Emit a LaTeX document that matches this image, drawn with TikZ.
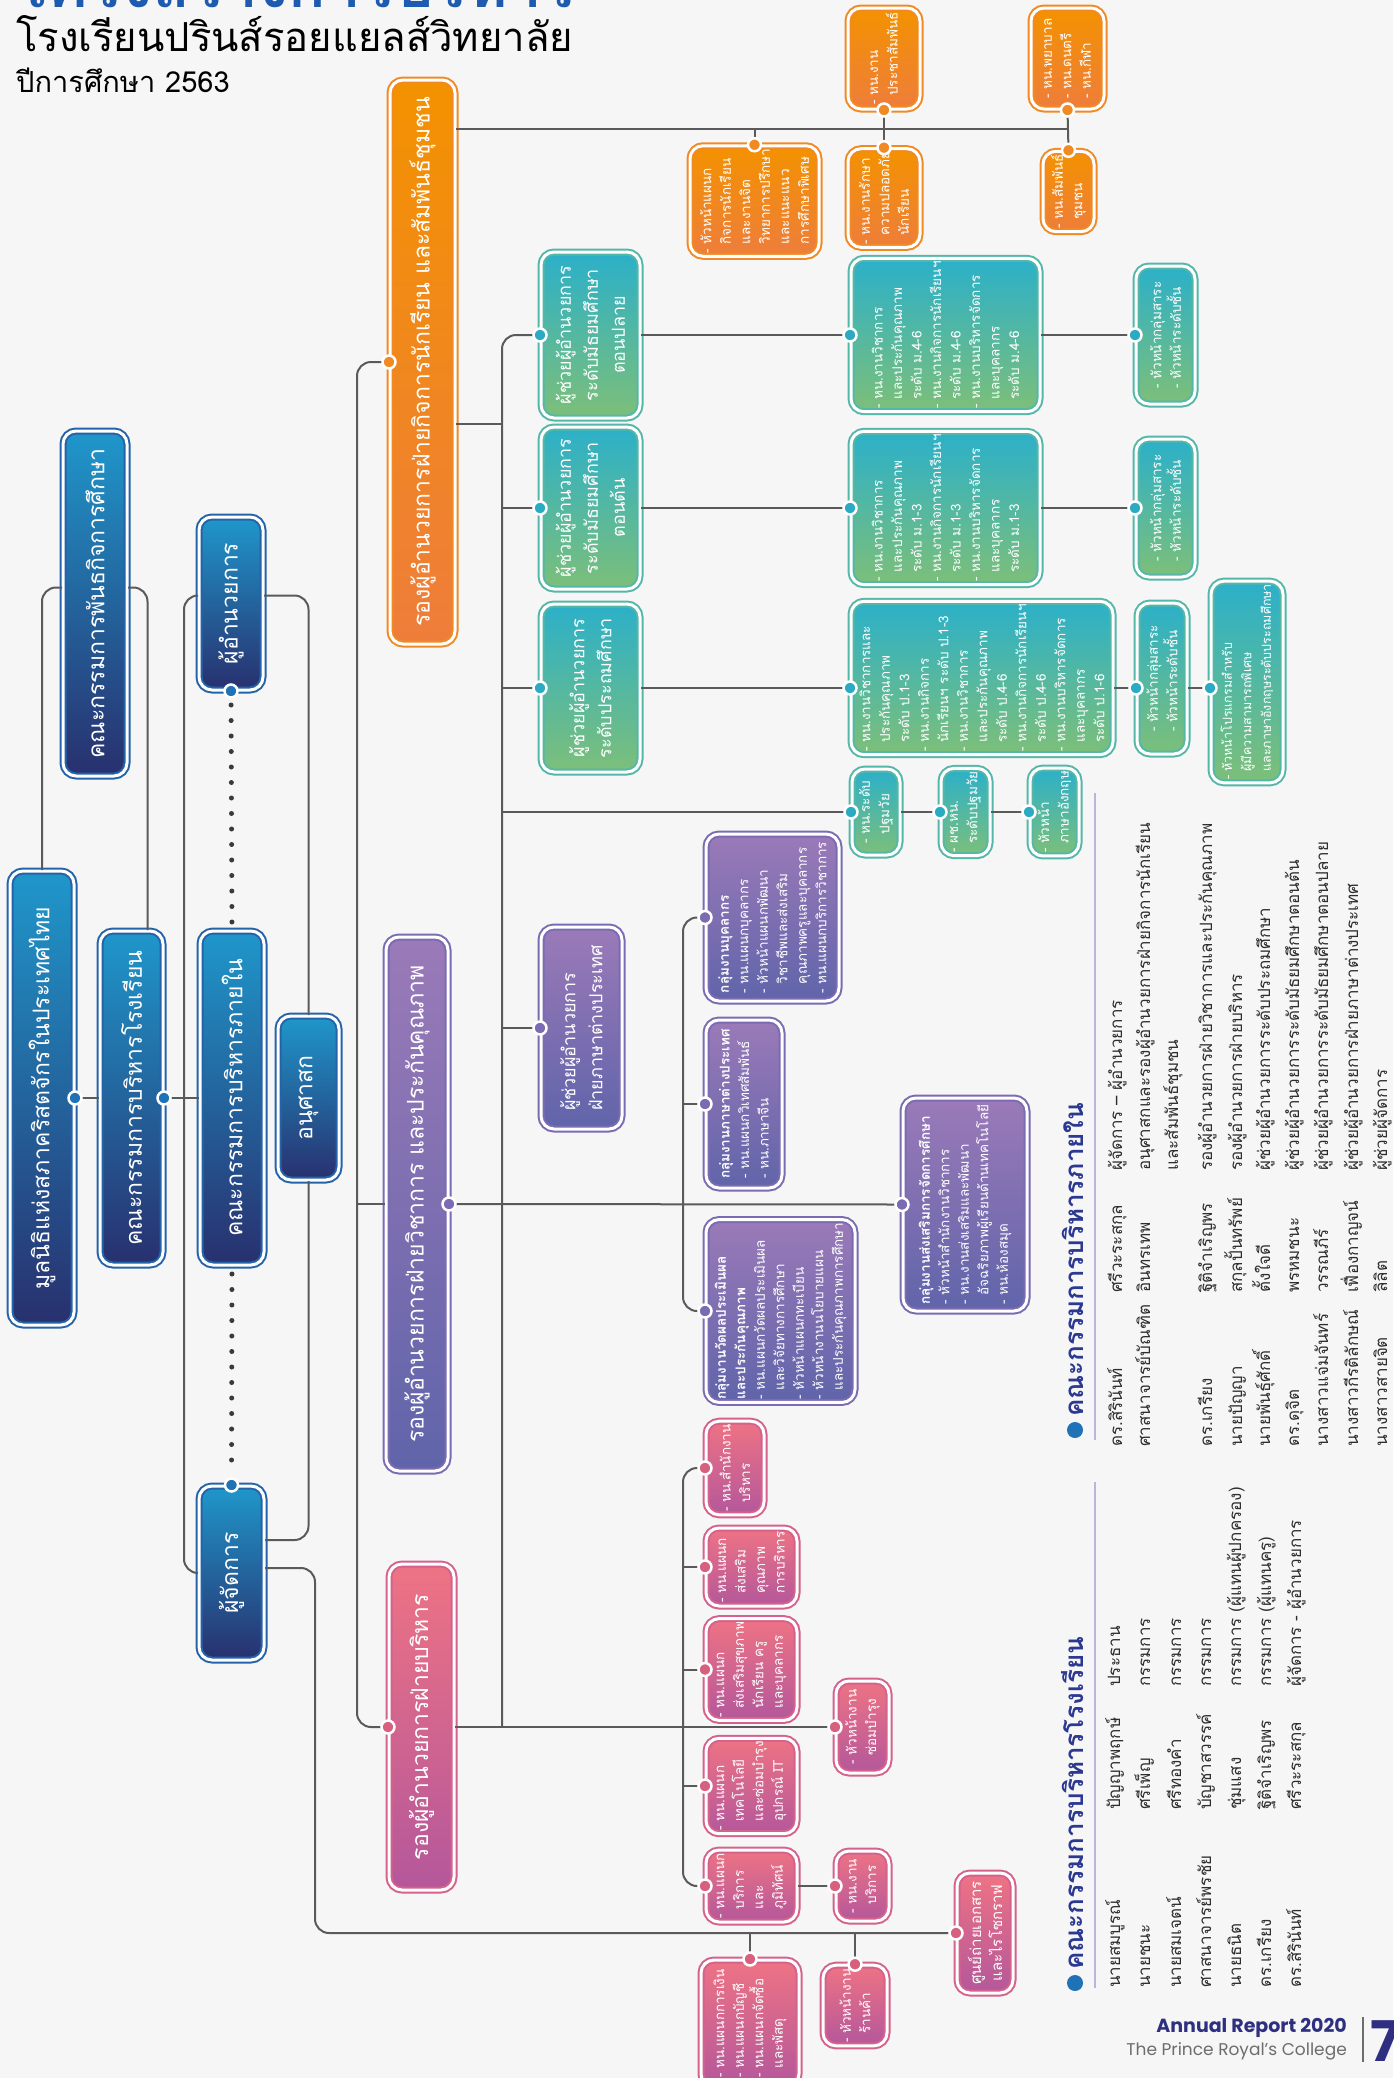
\documentclass[tikz,border=0pt]{standalone}
\usepackage{fontspec}
\setmainfont[Script=Thai]{Loma}
\newfontfamily\latin{Poppins}

\definecolor{bgcol}{HTML}{F6F6F6}
\definecolor{bluetop}{HTML}{1F97CB}
\definecolor{bluebot}{HTML}{28306E}
\definecolor{bluering}{HTML}{2563A8}
\definecolor{bluedot}{HTML}{1E72B5}
\definecolor{orgtop}{HTML}{F39200}
\definecolor{orgbot}{HTML}{EE7D3B}
\definecolor{orgring}{HTML}{F08A24}
\definecolor{grntop}{HTML}{2BB0C9}
\definecolor{grnbot}{HTML}{7DBF79}
\definecolor{grnring}{HTML}{55B7A8}
\definecolor{grndot}{HTML}{2AABC3}
\definecolor{purtop}{HTML}{9B7AB8}
\definecolor{purbot}{HTML}{6064AA}
\definecolor{purring}{HTML}{7A6BB2}
\definecolor{pnktop}{HTML}{EE7384}
\definecolor{pnkbot}{HTML}{B4579B}
\definecolor{pnkring}{HTML}{D4628C}
\definecolor{pnkdot}{HTML}{D8607F}
\definecolor{linegray}{HTML}{5A5A5A}
\definecolor{dotgray}{HTML}{3A3A3A}
\definecolor{legtext}{HTML}{2E2E2E}
\definecolor{headblue}{HTML}{2B3990}
\definecolor{rulec}{HTML}{B9B7D8}
\definecolor{navy}{HTML}{2E2F80}
\definecolor{footgray}{HTML}{6D6D6D}
\definecolor{titleblue}{HTML}{1E5BB0}

\newcommand\tabi{\hphantom{- }}
\newcommand\jdot[2]{\filldraw[fill=#1,draw=white,line width=2.5pt] (#2) circle (6.5pt);}

\tikzset{
  box/.style={rotate=90, rounded corners=13pt, line width=2pt, double=white, double distance=3pt, text=white, inner sep=3pt},
  bluebox/.style={box, draw=bluering, top color=bluetop, bottom color=bluebot, font=\fontsize{23}{28}\selectfont},
  orgbox/.style={box, draw=orgring, top color=orgtop, bottom color=orgbot},
  grnbox/.style={box, draw=grnring, top color=grntop, bottom color=grnbot},
  purbox/.style={box, draw=purring, top color=purtop, bottom color=purbot},
  pnkbox/.style={box, draw=pnkring, top color=pnktop, bottom color=pnkbot},
  bigtext/.style={font=\fontsize{23}{28}\selectfont},
  midtext/.style={font=\fontsize{18}{27}\selectfont, align=center},
  listtext/.style={font=\fontsize{13.5}{19.5}\selectfont, align=left},
  link/.style={draw=linegray, line width=2pt},
  dotline/.style={draw=dotgray, line width=5pt, line cap=round, dash pattern=on 0pt off 15.5pt},
  lg/.style={rotate=90, anchor=base west, inner sep=0pt, text=legtext, font=\fontsize{17}{20}\selectfont},
  lghead/.style={rotate=90, anchor=base west, inner sep=0pt, text=headblue, font=\bfseries\fontsize{26}{30}\selectfont},
}

\begin{document}
\begin{tikzpicture}[x=1pt, y=-1pt]
\useasboundingbox (0,0) rectangle (1393,2078);
\clip (0,0) rectangle (1393,2078);
\fill[bgcol] (0,0) rectangle (1393,2078);

% header
\node[anchor=base west, inner sep=0pt, text=titleblue, font=\bfseries\fontsize{62}{70}\selectfont] (bigtitle) at (14,7) {โครงสร้างการบริหาร};
\node[anchor=base west, inner sep=0pt, font=\fontsize{40}{48}\selectfont] (school) at (16,51) {โรงเรียนปรินส์รอยแยลส์วิทยาลัย};
\node[anchor=base west, inner sep=0pt, font=\fontsize{29}{36}\selectfont] (year) at (16,92) {ปีการศึกษา 2563};

% board and director
\node[bluebox, minimum width=454, minimum height=64] (B1) at (42,1098) {มูลนิธิแห่งสภาคริสตจักรในประเทศไทย};
\node[bluebox, minimum width=345, minimum height=64] (B2) at (95,603.5) {คณะกรรมการพันธกิจการศึกษา};
\node[bluebox, minimum width=334, minimum height=63] (B3) at (131.5,1098) {คณะกรรมการบริหารโรงเรียน};
\node[bluebox, minimum width=173, minimum height=64] (B4) at (231,603.5) {ผู้อำนวยการ};
\node[bluebox, minimum width=334, minimum height=64] (B5) at (232,1098) {คณะกรรมการบริหารภายใน};
\node[bluebox, minimum width=164, minimum height=61] (B6) at (308.5,1098) {อนุศาสก};
\node[bluebox, minimum width=174, minimum height=65] (B7) at (231.5,1573) {ผู้จัดการ};

% deputies
\node[orgbox, bigtext, minimum width=564, minimum height=65] (D1) at (422.5,362) {รองผู้อำนวยการฝ่ายกิจการนักเรียน และสัมพันธ์ชุมชน};
\node[purbox, bigtext, minimum width=534, minimum height=62] (P0) at (417,1204) {รองผู้อำนวยการฝ่ายวิชาการ และประกันคุณภาพ};
\node[pnkbox, bigtext, minimum width=326, minimum height=65] (K0) at (421.5,1727) {รองผู้อำนวยการฝ่ายบริหาร};

% student affairs
\node[orgbox, listtext, minimum width=101, minimum height=72] (O1) at (884,58.5) {- หน.งาน\\\tabi ประชาสัมพันธ์};
\node[orgbox, listtext, minimum width=101, minimum height=73] (O2) at (1067.5,58.5) {- หน.พยาบาล\\- หน.ดนตรี\\- หน.กีฬา};
\node[orgbox, listtext, minimum width=100, minimum height=129] (O3) at (754.5,201) {- หัวหน้าแผนก\\\tabi กิจการนักเรียน\\\tabi และงานจิต\\\tabi วิทยาการปรึกษา\\\tabi และแนะแนว\\\tabi การศึกษาพิเศษ};
\node[orgbox, listtext, minimum width=94, minimum height=72] (O4) at (884,198) {- หน.งานรักษา\\\tabi ความปลอดภัย\\\tabi นักเรียน};
\node[orgbox, listtext, minimum width=77, minimum height=51] (O5) at (1068.5,191.5) {- หน.สัมพันธ์\\\tabi ชุมชน};

% assistant directors
\node[grnbox, midtext, minimum width=166, minimum height=99] (G1) at (590.5,335) {ผู้ช่วยผู้อำนวยการ\\ระดับมัธยมศึกษา\\ตอนปลาย};
\node[grnbox, midtext, minimum width=162, minimum height=99] (G2) at (590.5,508) {ผู้ช่วยผู้อำนวยการ\\ระดับมัธยมศึกษา\\ตอนต้น};
\node[grnbox, midtext, minimum width=168, minimum height=99] (G3) at (590.5,688) {ผู้ช่วยผู้อำนวยการ\\ระดับประถมศึกษา};
\node[grnbox, listtext, minimum width=150, minimum height=189] (T1) at (945.5,335) {- หน.งานวิชาการ\\\tabi และประกันคุณภาพ\\\tabi ระดับ ม.4-6\\- หน.งานกิจการนักเรียนฯ\\\tabi ระดับ ม.4-6\\- หน.งานบริหารจัดการ\\\tabi และบุคลากร\\\tabi ระดับ ม.4-6};
\node[grnbox, listtext, minimum width=150, minimum height=189] (T2) at (945.5,508) {- หน.งานวิชาการ\\\tabi และประกันคุณภาพ\\\tabi ระดับ ม.1-3\\- หน.งานกิจการนักเรียนฯ\\\tabi ระดับ ม.1-3\\- หน.งานบริหารจัดการ\\\tabi และบุคลากร\\\tabi ระดับ ม.1-3};
\node[grnbox, listtext, minimum width=152, minimum height=262] (T3) at (982,678) {- หน.งานวิชาการและ\\\tabi ประกันคุณภาพ\\\tabi ระดับ ป.1-3\\- หน.งานกิจการ\\\tabi นักเรียนฯ ระดับ ป.1-3\\- หน.งานวิชาการ\\\tabi และประกันคุณภาพ\\\tabi ระดับ ป.4-6\\- หน.งานกิจการนักเรียนฯ\\\tabi ระดับ ป.4-6\\- หน.งานบริหารจัดการ\\\tabi และบุคลากร\\\tabi ระดับ ป.1-6};
\node[grnbox, listtext, minimum width=138, minimum height=59] (H1) at (1165.5,335) {- หัวหน้ากลุ่มสาระ\\- หัวหน้าระดับชั้น};
\node[grnbox, listtext, minimum width=138, minimum height=59] (H2) at (1165.5,508) {- หัวหน้ากลุ่มสาระ\\- หัวหน้าระดับชั้น};
\node[grnbox, listtext, minimum width=151, minimum height=50] (H3) at (1162,678.5) {- หัวหน้ากลุ่มสาระ\\- หัวหน้าระดับชั้น};
\node[grnbox, listtext, font=\fontsize{12.5}{19.5}\selectfont, minimum width=170, minimum height=72] (H4) at (1247,682) {- หัวหน้าโปรแกรมสำหรับ\\\tabi ผู้มีความสามารถพิเศษ\\\tabi และภาษาอังกฤษระดับประถมศึกษา};
\node[grnbox, listtext, minimum width=86, minimum height=48] (S1) at (876,812) {- หน.ระดับ\\\tabi ปฐมวัย};
\node[grnbox, listtext, minimum width=86, minimum height=49] (S2) at (965.5,812) {- ผช.หน.\\\tabi ระดับปฐมวัย};
\node[grnbox, listtext, minimum width=86, minimum height=49] (S3) at (1054.5,812) {- หัวหน้า\\\tabi ภาษาอังกฤษ};

% academic affairs
\node[purbox, midtext, align=left, minimum width=202, minimum height=81] (PA) at (581.5,1028) {ผู้ช่วยผู้อำนวยการ\\ฝ่ายภาษาต่างประเทศ};
\node[purbox, listtext, minimum width=167, minimum height=133] (PQ1) at (772.5,917.5) {\textbf{กลุ่มงานบุคลากร}\\- หน.แผนกบุคลากร\\- หัวหน้าแผนกพัฒนา\\\tabi วิชาชีพและส่งเสริม\\\tabi คุณภาพครูและบุคลากร\\- หน.แผนกบริการวิชาการ};
\node[purbox, listtext, minimum width=168, minimum height=76] (PQ2) at (744,1104) {\textbf{กลุ่มงานภาษาต่างประเทศ}\\- หน.แผนกวิเทศสัมพันธ์\\- หน.ภาษาจีน};
\node[purbox, listtext, minimum width=182, minimum height=149] (PQ3) at (780.5,1311) {\textbf{กลุ่มงานวัดผลประเมินผล}\\\textbf{และประกันคุณภาพ}\\- หน.แผนกวัดผลประเมินผล\\\tabi และวิจัยทางการศึกษา\\- หัวหน้าแผนกทะเบียน\\- หัวหน้างานนโยบายแผน\\\tabi และประกันคุณภาพการศึกษา};
\node[purbox, listtext, minimum width=213, minimum height=124] (PQ4) at (965,1204.5) {\textbf{กลุ่มงานส่งเสริมการจัดการศึกษา}\\- หัวหน้าสำนักงานวิชาการ\\- หน.งานส่งเสริมและพัฒนา\\\tabi อัจฉริยภาพผู้เรียนด้านเทคโนโลยี\\- หน.ห้องสมุด};

% administration
\node[pnkbox, listtext, minimum width=90, minimum height=58] (K1) at (735,1468) {- หน.สำนักงาน\\\tabi บริหาร};
\node[pnkbox, listtext, minimum width=78, minimum height=91] (K2) at (751.5,1567) {- หน.แผนก\\\tabi ส่งเสริม\\\tabi คุณภาพ\\\tabi การบริหาร};
\node[pnkbox, listtext, minimum width=97, minimum height=91] (K3) at (751.5,1669.5) {- หน.แผนก\\\tabi ส่งเสริมสุขภาพ\\\tabi นักเรียน ครู\\\tabi และบุคลากร};
\node[pnkbox, listtext, minimum width=92, minimum height=53] (KH) at (862.5,1727) {- หัวหน้างาน\\\tabi ซ่อมบำรุง};
\node[pnkbox, listtext, minimum width=94, minimum height=91] (K4) at (751.5,1786) {- หน.แผนก\\\tabi เทคโนโลยี\\\tabi และซ่อมบำรุง\\\tabi อุปกรณ์ IT};
\node[pnkbox, listtext, minimum width=72, minimum height=91] (K5) at (751.5,1886) {- หน.แผนก\\\tabi บริการ\\\tabi และ\\\tabi ภูมิทัศน์};
\node[pnkbox, listtext, minimum width=70, minimum height=53] (KS) at (862.5,1886) {- หน.งาน\\\tabi บริการ};
\node[pnkbox, midtext, font=\fontsize{15}{21}\selectfont, minimum width=120, minimum height=56] (KC) at (985,1933) {ศูนย์ถ่ายเอกสาร\\และไรโซกราฟ};
\node[pnkbox, listtext, minimum width=127, minimum height=98] (KF) at (750,2023.5) {- หน.แผนกการเงิน\\- หน.แผนกบัญชี\\- หน.แผนกจัดซื้อ\\\tabi และพัสดุ};
\node[pnkbox, listtext, minimum width=79, minimum height=64] (KR) at (855,2005.5) {- หัวหน้างาน\\\tabi ร้านค้า};

% connectors
\draw[link] (B1.south) -- (B3.north);
\draw[link] (B3.south) -- (B5.north);
\draw[link, rounded corners=14pt] (B1.east) |- ([yshift=16pt]B2.north);
\draw[link, rounded corners=14pt] ([yshift=16pt]B2.south) -| ([xshift=16pt]B3.east);
\draw[link, rounded corners=14pt] ([yshift=8pt]B4.north) -- ++(-14,0) |- (B7.north);
\draw[link, rounded corners=14pt] ([yshift=8pt]B4.south) -| (B6.east);
\draw[link, rounded corners=14pt] (B6.west) |- ([yshift=33pt]B7.south);
\draw[link, rounded corners=14pt] ([yshift=5pt]B7.south) -- ++(50,0) |- (KC.north);
\draw[link] (KF.east) -- (KF.east |- KC.north);
\draw[link] (KR.east) -- (KR.east |- KC.north);
\draw[dotline, shorten <=14pt, shorten >=8pt] (B4.west) -- (B5.east);
\draw[dotline, shorten <=8pt, shorten >=14pt] (B5.west) -- (B7.east);

\draw[link, rounded corners=14pt] (D1.north) -| (357,1204) |- (K0.north);
\draw[link] (P0.north) -- (P0.north -| 357,0);

\draw[link] (D1.south |- 0,129) -- (O2.west |- 0,129);
\draw[link] (O1.west) -- (O4.east);
\draw[link] (O2.west) -- (O5.east);
\draw[link] (O3.east) -- (O3.east |- 0,129);
\draw[link] (D1.south |- 0,424) -- (502,424);

\draw[link, rounded corners=14pt] (G1.north) -| (K0.south -| 502,0);
\draw[link] (G2.north) -- (G2.north -| 502,0);
\draw[link] (G3.north) -- (G3.north -| 502,0);
\draw[link] (S1.north) -- (S1.north -| 502,0);
\draw[link] (PA.north) -- (PA.north -| 502,0);
\draw[link] (G1.south) -- (T1.north);
\draw[link] (T1.south) -- (H1.north);
\draw[link] (G2.south) -- (T2.north);
\draw[link] (T2.south) -- (H2.north);
\draw[link] (G3.south) -- (T3.north |- G3.south);
\draw[link] (T3.south |- G3.south) -- (H3.north |- G3.south);
\draw[link] (H3.south |- G3.south) -- (H4.north |- G3.south);
\draw[link] (S1.south) -- (S2.north);
\draw[link] (S2.south) -- (S3.north);

\draw[link] (P0.south) -- (PQ4.north);
\draw[link, rounded corners=14pt] (PQ1.north) -| (683,1204) |- (PQ3.north);
\draw[link] (PQ2.north) -- (PQ2.north -| 683,0);

\draw[link] (K0.south) -- (KH.north);
\draw[link, rounded corners=14pt] (K1.north) -| (683,1727) |- (K5.north);
\draw[link] (K2.north) -- (K2.north -| 683,0);
\draw[link] (K3.north) -- (K3.north -| 683,0);
\draw[link] (K4.north) -- (K4.north -| 683,0);
\draw[link] (K5.south) -- (KS.north);

% dots
\jdot{bluedot}{B1.south}
\jdot{bluedot}{B3.south}
\jdot{bluedot}{B4.west}
\jdot{bluedot}{B7.east}
\jdot{orgring}{D1.north}
\jdot{orgring}{O1.west}
\jdot{orgring}{O2.west}
\jdot{orgring}{O3.east}
\jdot{orgring}{O4.east}
\jdot{orgring}{O5.east}
\foreach \n in {G1,G2,G3,T1,T2,H1,H2,S1,S2,S3} {\jdot{grndot}{\n.north}}
\jdot{grndot}{T3.north |- G3.north}
\jdot{grndot}{H3.north |- G3.north}
\jdot{grndot}{H4.north |- G3.north}
\foreach \n in {PA,PQ1,PQ2,PQ3,PQ4} {\jdot{purring}{\n.north}}
\jdot{purring}{P0.south}
\foreach \n in {K0,K1,K2,K3,K4,K5,KH,KS,KC} {\jdot{pnkdot}{\n.north}}
\jdot{pnkdot}{KF.east}
\jdot{pnkdot}{KR.east}

% legend: internal board
\fill[bluedot] (1075,1430) circle (8pt);
\node[lghead] (headin) at (1083,1417) {คณะกรรมการบริหารภายใน};
\draw[rulec, line width=1.5pt] (1095,793) -- (1095,1440);
\foreach \xx/\na/\sn/\ro [count=\i] in {
  1117/ดร.สิรินันท์/ศรีวะระสกุล/ผู้จัดการ – ผู้อำนวยการ,
  1145/ศาสนาจารย์บัณฑิต/อินทรเทพ/อนุศาสกและรองผู้อำนวยการฝ่ายกิจการนักเรียน,
  1207/ดร.เกรียง/ฐิติจำเริญพร/รองผู้อำนวยการฝ่ายวิชาการและประกันคุณภาพ,
  1237/นายปัญญา/สกุลปั้นทรัพย์/รองผู้อำนวยการฝ่ายบริหาร,
  1265/นายพันธุ์ศักดิ์/ตั้งใจดี/ผู้ช่วยผู้อำนวยการระดับประถมศึกษา,
  1294/ดร.ดุจิต/พรหมชนะ/ผู้ช่วยผู้อำนวยการระดับมัธยมศึกษาตอนต้น,
  1323/นางสาวแจ่มจันทร์/วรรณภีร์/ผู้ช่วยผู้อำนวยการระดับมัธยมศึกษาตอนปลาย,
  1353/นางสาวกีรติลักษณ์/เฟื่องกาญจน์/ผู้ช่วยผู้อำนวยการฝ่ายภาษาต่างประเทศ,
  1382/นางสาวสายจิต/ลิลิต/ผู้ช่วยผู้จัดการ}{
  \node[lg] (ina\i) at (\xx+5,1447) {\na};
  \node[lg] (isn\i) at (\xx+5,1293) {\sn};
  \node[lg] (iro\i) at (\xx+5,1171) {\ro};
}
\node[lg] (iroextra) at (1178,1171) {และสัมพันธ์ชุมชน};

% legend: school board
\fill[bluedot] (1075,1983) circle (8pt);
\node[lghead] (headsc) at (1083,1970) {คณะกรรมการบริหารโรงเรียน};
\draw[rulec, line width=1.5pt] (1095,1482) -- (1095,1988);
\foreach \xx/\na/\sn/\ro [count=\i] in {
  1115/นายสมบูรณ์/ปัญญาพฤกษ์/ประธาน,
  1145/นายชนะ/ศรีเพ็ญ/กรรมการ,
  1176/นายสมเจตน์/ศรีทองคำ/กรรมการ,
  1206/ศาสนาจารย์พรชัย/บัญชาสวรรค์/กรรมการ,
  1236/นายธนิต/ชุ่มแสง/กรรมการ (ผู้แทนผู้ปกครอง),
  1266/ดร.เกรียง/ฐิติจำเริญพร/กรรมการ (ผู้แทนครู),
  1296/ดร.สิรินันท์/ศรีวะระสกุล/ผู้จัดการ - ผู้อำนวยการ}{
  \node[lg] (sna\i) at (\xx+5,1988) {\na};
  \node[lg] (ssn\i) at (\xx+5,1810) {\sn};
  \node[lg] (sro\i) at (\xx+5,1687) {\ro};
}

% footer
\node[anchor=base east, inner sep=0pt, text=navy, font=\latin\bfseries\fontsize{19}{22}\selectfont] (report) at (1347,2032) {Annual Report 2020};
\node[anchor=base east, inner sep=0pt, text=footgray, font=\latin\fontsize{17}{20}\selectfont] (college) at (1347,2055) {The Prince Royal’s College};
\draw[footgray, line width=1.5pt] (1363,2017) -- (1363,2062);
\node[anchor=base west, inner sep=0pt, text=navy, font=\latin\bfseries\fontsize{56}{60}\selectfont] (page) at (1370,2061) {7};
\end{tikzpicture}
\end{document}
